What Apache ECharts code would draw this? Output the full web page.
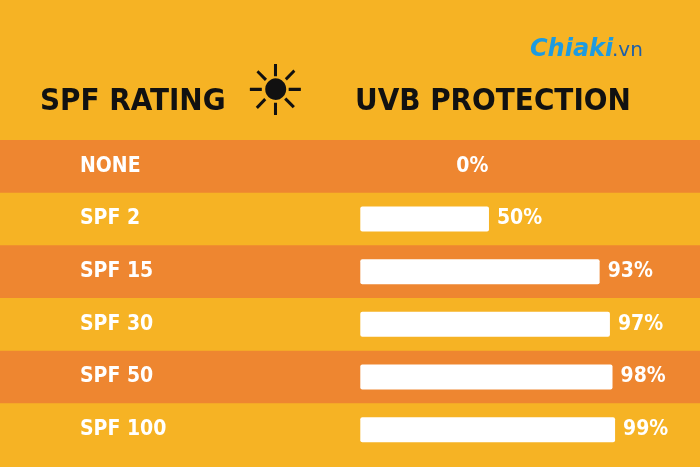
<!DOCTYPE html>
<html><head><meta charset="utf-8">
<script src="https://cdn.jsdelivr.net/npm/echarts@6/dist/echarts.min.js"></script>
<style>html,body{margin:0;padding:0;background:#F6B324}#c{width:700px;height:467px}</style>
</head><body><div id="c"></div>
<script>
var categories = ['NONE', 'SPF 2', 'SPF 15', 'SPF 30', 'SPF 50', 'SPF 100'];
var protection = [0, 50, 93, 97, 98, 99];

var font = '"DejaVu Sans Condensed", "Liberation Sans Narrow", sans-serif';
var chart = echarts.init(document.getElementById('c'));

var barData = protection.map(function (v) {
    // 0% sits in the middle of the row rather than at the bar start
    if (v === 0) return { value: v, label: { offset: [88, 0] } };
    return v;
});

chart.setOption({
    backgroundColor: '#F6B324',
    grid: { left: 0, right: 0, top: 140, bottom: 11 },
    xAxis: { type: 'value', min: -140, max: 132, show: false },
    yAxis: {
        type: 'category', data: categories, inverse: true,
        axisLine: { show: false }, axisTick: { show: false },
        splitArea: { show: true, areaStyle: { color: ['#EE8630', 'rgba(0,0,0,0)'] } },
        axisLabel: {
            inside: true, margin: 80, color: '#fff', fontFamily: font,
            fontWeight: 'bold', fontSize: 21
        }
    },
    series: [{
        type: 'bar', data: barData, barWidth: 25,
        itemStyle: { color: '#fff', borderRadius: 2 },
        label: {
            show: true, position: 'right', distance: 8, formatter: '{c}%',
            color: '#fff', fontFamily: font, fontWeight: 'bold', fontSize: 21
        }
    }],
    graphic: [
        { type: 'text', left: 40, top: 86, style: { text: 'SPF RATING', font: 'bold 31px ' + font, fill: '#111' } },
        { type: 'text', left: 244, top: 62, style: { text: '☀', font: '70px "DejaVu Sans"', fill: '#111' } },
        { type: 'text', left: 355, top: 86, style: { text: 'UVB PROTECTION', font: 'bold 31px ' + font, fill: '#111' } },
        { type: 'text', left: 530, top: 38, style: { text: 'Chiaki', font: 'italic bold 24px "DejaVu Sans"', fill: '#1E9BE0' } },
        { type: 'text', left: 612, top: 41, style: { text: '.vn', font: '20px "DejaVu Sans"', fill: '#1E5FA8' } }
    ]
});
</script></body></html>
